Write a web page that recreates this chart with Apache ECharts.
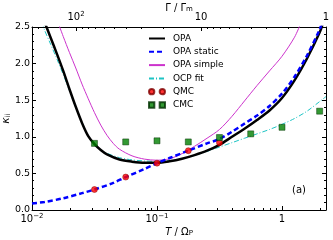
<!DOCTYPE html>
<html><head><meta charset="utf-8">
<script src="https://cdn.jsdelivr.net/npm/echarts@6/dist/echarts.min.js"></script>
<style>html,body{margin:0;padding:0;background:#fff}#c{width:333px;height:240px}</style>
</head><body><div id="c"></div>
<script>
// ---- data ----
const opaT = [0.01259,0.01413,0.01585,0.01778,0.01995,0.02239,0.02512,0.02818,0.03162,0.03548,0.03981,0.05012,0.0631,0.07943,0.1,0.1259,0.1585,0.1995,0.2512,0.3162,0.3981,0.5012,0.631,0.7943,1,1.259,1.585,1.995,2.138];
const opaK = [2.57,2.35,2.13,1.90,1.65,1.41,1.19,1.01,0.90,0.82,0.76,0.69,0.66,0.645,0.645,0.665,0.70,0.75,0.81,0.89,1.00,1.11,1.23,1.36,1.53,1.77,2.07,2.42,2.56];

const staticT = [0.01,0.01259,0.01778,0.02512,0.03162,0.04467,0.05623,0.07943,0.1,0.1259,0.1778,0.2512,0.3162,0.3981,0.5012,0.631,0.7943,1,1.259,1.585,1.995,2.089];
const staticK = [0.09,0.11,0.16,0.23,0.28,0.37,0.45,0.56,0.64,0.71,0.81,0.91,0.97,1.07,1.18,1.29,1.42,1.59,1.82,2.11,2.46,2.56];

const simpleT = [0.01585,0.01778,0.01995,0.02239,0.02512,0.02818,0.03162,0.03548,0.03981,0.04467,0.05012,0.0631,0.07943,0.1,0.1259,0.1585,0.1995,0.2512,0.3162,0.3981,0.5012,0.631,0.7943,1,1.259,1.413];
const simpleK = [2.60,2.37,2.15,1.94,1.72,1.52,1.33,1.16,1.02,0.91,0.83,0.74,0.695,0.68,0.70,0.77,0.87,0.98,1.10,1.28,1.49,1.70,1.90,2.10,2.36,2.55];

const ocpT = [0.01202,0.01259,0.01413,0.01585,0.01778,0.01995,0.02239,0.02512,0.02818,0.03162,0.03548,0.03981,0.05012,0.0631,0.07943,0.1,0.1259,0.1585,0.1995,0.2512,0.3162,0.3981,0.5012,0.631,0.7943,1,1.259,1.585,1.995,2.25];
const ocpK = [2.57,2.46,2.26,2.06,1.85,1.63,1.40,1.19,1.01,0.90,0.825,0.775,0.715,0.685,0.67,0.665,0.675,0.70,0.745,0.80,0.86,0.92,0.98,1.04,1.10,1.17,1.25,1.35,1.48,1.55];

const qmcT = [0.0316,0.0562,0.1,0.178,0.316];
const qmcK = [0.28,0.45,0.64,0.81,0.92];

const cmcT = [0.0316,0.0562,0.1,0.178,0.316,0.562,1.0,2.0];
const cmcK = [0.91,0.93,0.945,0.93,0.99,1.04,1.13,1.35];

// axes ranges and tick positions
const tMin = 0.01, tMax = 2.249;
const gMin = 1, gMax = 224.9;
const kMin = 0, kMax = 2.5, kStep = 0.5;
const minorT = [0.02,0.03,0.04,0.05,0.06,0.07,0.08,0.09,0.2,0.3,0.4,0.5,0.6,0.7,0.8,0.9,2];
const minorG = [2,3,4,5,6,7,8,9,20,30,40,50,60,70,80,90,200];

const seriesNames = ['OPA','OPA static','OPA simple','OCP fit','QMC','CMC'];

// ---- chart ----
const FONT = 'DejaVu Sans';
const zip = (a,b) => a.map((v,i)=>[v,b[i]]);
function powLabel(v){
  const l = Math.log10(v), e = Math.round(l);
  if (Math.abs(l-e) > 1e-6) return '';
  if (e === 0) return '{b|1}';
  if (e === 1) return '{b|10}';
  return '{b|10}{s|' + (e<0 ? '\u2212'+(-e) : e) + '}';
}
const rich = {
  b:{fontSize:10,fontFamily:FONT,color:'#000',lineHeight:13},
  s:{fontSize:7,fontFamily:FONT,color:'#000',verticalAlign:'top',lineHeight:9}
};
function minorTickSeries(xi, vals, yv, dir){
  return {type:'custom', xAxisIndex:xi, yAxisIndex:0, silent:true, clip:false, z:10,
    data: vals.map(v=>[v,yv]), encode:{x:0,y:1},
    renderItem:(p,api)=>{
      const c = api.coord([api.value(0), api.value(1)]);
      const x = Math.round(c[0])+0.5;
      return {type:'line', shape:{x1:x,y1:c[1],x2:x,y2:c[1]+dir*2}, style:{stroke:'#000',lineWidth:1}};
    }};
}
const noSym = {opacity:0};
const chart = echarts.init(document.getElementById('c'), null, {renderer:'canvas'});
chart.setOption({
  animation:false,
  backgroundColor:'#fff',
  textStyle:{fontFamily:FONT},
  grid:{left:32,right:7,top:27,bottom:30,show:false,containLabel:false,outerBoundsMode:'none'},
  legend:{
    orient:'vertical', left:143, top:29, itemWidth:16, itemHeight:7, itemGap:4.3,
    textStyle:{fontSize:9,fontFamily:FONT,color:'#000',padding:[0,0,0,3]},
    data:[
      {name:'OPA', itemStyle:noSym},{name:'OPA static', itemStyle:noSym},
      {name:'OPA simple', itemStyle:noSym},{name:'OCP fit', itemStyle:noSym},
      {name:'QMC', icon:'path://M0,3a3,3 0 1,0 6,0a3,3 0 1,0 -6,0zM12,3a3,3 0 1,0 6,0a3,3 0 1,0 -6,0z'},
      {name:'CMC', icon:'path://M0,0h6v6h-6zM12,0h6v6h-6z'}
    ]
  },
  xAxis:[
    {type:'log', logBase:10, min:tMin, max:tMax, position:'bottom',
     name:'{i|T} / \u03A9{sub|P}', nameLocation:'middle', nameGap:17, nameMoveOverlap:false,
     nameTextStyle:{fontSize:10,fontFamily:FONT,color:'#000',rich:{i:{fontStyle:'italic',fontSize:10,fontFamily:FONT},sub:{fontSize:7,verticalAlign:'bottom',fontFamily:FONT}}},
     axisLine:{onZero:false,lineStyle:{color:'#000',width:1}},
     axisTick:{inside:true,length:4,lineStyle:{color:'#000'}},
     axisLabel:{margin:3,formatter:powLabel,rich:rich,showMaxLabel:true,showMinLabel:true},
     splitLine:{show:false}, minorTick:{show:false}},
    {type:'log', logBase:10, min:gMin, max:gMax, position:'top', inverse:true,
     name:'\u0393 / \u0393{sub|m}', nameLocation:'middle', nameGap:14, nameMoveOverlap:false,
     nameTextStyle:{fontSize:10,fontFamily:FONT,color:'#000',rich:{sub:{fontSize:7,verticalAlign:'bottom',fontFamily:FONT}}},
     axisLine:{onZero:false,lineStyle:{color:'#000',width:1}},
     axisTick:{inside:true,length:4,lineStyle:{color:'#000'}},
     axisLabel:{margin:3,formatter:powLabel,rich:rich},
     splitLine:{show:false}}
  ],
  yAxis:[
    {type:'value', min:kMin, max:kMax, interval:kStep, position:'left',
     name:'{i|\u03BA}{sub|ii}', nameLocation:'middle', nameGap:20, nameRotate:90, nameMoveOverlap:false,
     nameTextStyle:{fontSize:10,fontFamily:FONT,color:'#000',rich:{i:{fontStyle:'italic',fontSize:11,fontFamily:FONT},sub:{fontSize:7,verticalAlign:'bottom',fontFamily:FONT}}},
     axisLine:{onZero:false,lineStyle:{color:'#000',width:1}},
     axisTick:{inside:true,length:4,lineStyle:{color:'#000'}},
     minorTick:{show:true,splitNumber:5,length:2,lineStyle:{color:'#000'}},
     axisLabel:{margin:2,fontSize:9.5,fontFamily:FONT,color:'#000',formatter:v=>v.toFixed(1)},
     splitLine:{show:false}},
    {type:'value', min:kMin, max:kMax, interval:kStep, position:'right',
     axisLine:{onZero:false,lineStyle:{color:'#000',width:1}},
     axisTick:{inside:true,length:4,lineStyle:{color:'#000'}},
     minorTick:{show:true,splitNumber:5,length:2,lineStyle:{color:'#000'}},
     axisLabel:{show:false}, splitLine:{show:false}}
  ],
  series:[
    {name:seriesNames[3], type:'line', data:zip(ocpT,ocpK), symbol:'none', smooth:0.3, z:3,
     lineStyle:{color:'#1ec4c4',width:1,type:[5,2,1,2]}, itemStyle:{color:'#1ec4c4'}},
    {name:seriesNames[2], type:'line', data:zip(simpleT,simpleK), symbol:'none', smooth:0.3, z:3,
     lineStyle:{color:'#cc33cc',width:1}, itemStyle:{color:'#cc33cc'}},
    {name:seriesNames[0], type:'line', data:zip(opaT,opaK), symbol:'none', smooth:0.3, z:4,
     lineStyle:{color:'#000',width:2.5}, itemStyle:{color:'#000'}},
    {name:seriesNames[1], type:'line', data:zip(staticT,staticK), symbol:'none', smooth:0.3, z:5,
     lineStyle:{color:'#0000ff',width:2.5,type:[5,3]}, itemStyle:{color:'#0000ff'}},
    {name:seriesNames[4], type:'scatter', data:zip(qmcT,qmcK), symbol:'circle', symbolSize:6, z:6,
     itemStyle:{color:'#ff0000',borderColor:'#800000',borderWidth:0.6}},
    {name:seriesNames[5], type:'scatter', data:zip(cmcT,cmcK), symbol:'rect', symbolSize:6, z:6,
     itemStyle:{color:'#008000',borderColor:'#003000',borderWidth:0.6}},
    minorTickSeries(0, minorT, kMin, -1),
    minorTickSeries(1, minorG, kMax, 1)
  ],
  graphic:[{type:'text', left:292, top:185, style:{text:'(a)', font:'10px "DejaVu Sans"', fill:'#000'}}]
});
</script></body></html>
